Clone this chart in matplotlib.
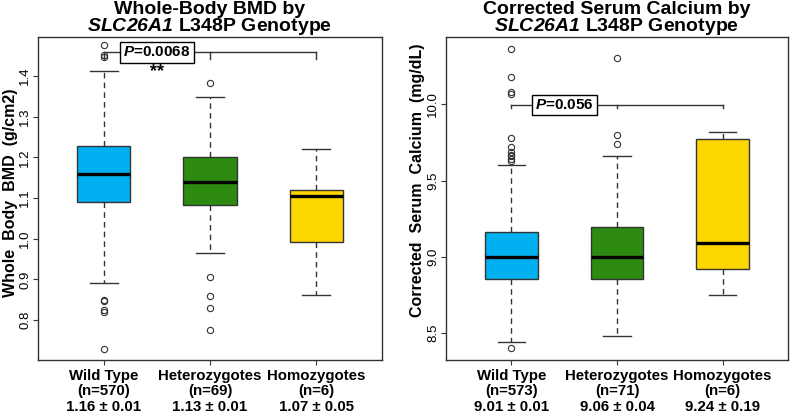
import matplotlib
matplotlib.use("Agg")
import matplotlib.pyplot as plt
import matplotlib.transforms as mtransforms

plt.rcParams['font.family'] = ['Liberation Sans', 'DejaVu Sans']
plt.rcParams['mathtext.fontset'] = 'custom'
plt.rcParams['mathtext.rm'] = 'Liberation Sans:bold'
plt.rcParams['mathtext.bf'] = 'Liberation Sans:bold'
plt.rcParams['mathtext.it'] = 'Liberation Sans:italic:bold'
plt.rcParams['mathtext.bfit'] = 'Liberation Sans:italic:bold'

# ---------------- data ----------------
groups = ["Wild Type", "Heterozygotes", "Homozygotes"]
colors = ["#00B0F0", "#2E8B12", "#FFD700"]

bmd_n = [570, 69, 6]
bmd_mean = ["1.16 \u00b1 0.01", "1.13 \u00b1 0.01", "1.07 \u00b1 0.05"]
bmd_whislo = [0.891, 0.965, 0.862]
bmd_q1 = [1.091, 1.084, 0.991]
bmd_med = [1.160, 1.139, 1.105]
bmd_q3 = [1.228, 1.200, 1.119]
bmd_whishi = [1.413, 1.349, 1.221]
bmd_fliers = [[1.476, 1.446, 1.451, 0.849, 0.846, 0.824, 0.820, 0.729],
              [1.382, 0.907, 0.859, 0.829, 0.775],
              []]
bmd_p = "0.0068"

ca_n = [573, 71, 6]
ca_mean = ["9.01 \u00b1 0.01", "9.06 \u00b1 0.04", "9.24 \u00b1 0.19"]
ca_whislo = [8.44, 8.485, 8.75]
ca_q1 = [8.858, 8.854, 8.92]
ca_med = [9.0, 9.0, 9.09]
ca_q3 = [9.16, 9.197, 9.77]
ca_whishi = [9.60, 9.66, 9.82]
ca_fliers = [[10.36, 10.18, 10.08, 10.066, 9.78, 9.72, 9.69, 9.67, 9.66, 9.64, 9.63, 8.403],
             [10.30, 9.80, 9.74],
             []]
ca_p = "0.056"

bmd_ticks = [0.8, 0.9, 1.0, 1.1, 1.2, 1.3, 1.4]
ca_ticks = [8.5, 9.0, 9.5, 10.0]

# ---------------- figure ----------------
fig = plt.figure(figsize=(7.92, 4.18), dpi=100)
ax1 = fig.add_axes([38/792, 1-360/418, 344/792, 323/418])
ax2 = fig.add_axes([446/792, 1-360/418, 342/792, 323/418])

edge = "#333333"


def draw(ax, whislo, q1, med, q3, whishi, fliers, ns, means, ticks, ylim, shift):
    stats = []
    for i in range(3):
        stats.append(dict(whislo=whislo[i], q1=q1[i], med=med[i], q3=q3[i],
                          whishi=whishi[i], fliers=fliers[i]))
    bp = ax.bxp(stats, positions=[1, 2, 3], widths=0.5, patch_artist=True,
                showfliers=True,
                boxprops=dict(edgecolor=edge, linewidth=1.0),
                medianprops=dict(color="black", linewidth=2.4),
                whiskerprops=dict(color=edge, linestyle=(0, (4, 3)), linewidth=1.0),
                capprops=dict(color=edge, linewidth=1.0),
                capwidths=0.26,
                flierprops=dict(marker='o', markerfacecolor='none',
                                markeredgecolor=edge, markersize=4.5,
                                markeredgewidth=0.8))
    for patch, c in zip(bp['boxes'], colors):
        patch.set_facecolor(c)
    ax.set_xlim(0.38, 3.62)
    ax.set_ylim(*ylim)
    labels = [f"{g}\n(n={n})\n{m}" for g, n, m in zip(groups, ns, means)]
    ax.set_xticks([1, 2, 3])
    ax.set_xticklabels(labels, fontsize=10.8, fontweight='bold', linespacing=1.12)
    lab = ax.get_xticklabels()[2]
    lab.set_transform(lab.get_transform() +
                      mtransforms.ScaledTranslation(shift / 100, 0, fig.dpi_scale_trans))
    ax.set_yticks(ticks)
    ax.set_yticklabels([f"{t:.1f}" for t in ticks], rotation=90, va='center', fontsize=9.5)
    for s in ax.spines.values():
        s.set_color(edge)
        s.set_linewidth(1.0)
    ax.tick_params(axis='both', direction='out', length=3.5, width=0.8, color=edge)
    ax.tick_params(axis='x', pad=3)
    ax.tick_params(axis='y', pad=1.5)


draw(ax1, bmd_whislo, bmd_q1, bmd_med, bmd_q3, bmd_whishi, bmd_fliers, bmd_n, bmd_mean,
     bmd_ticks, (0.702, 1.496), 7)
draw(ax2, ca_whislo, ca_q1, ca_med, ca_q3, ca_whishi, ca_fliers, ca_n, ca_mean,
     ca_ticks, (8.325, 10.44), 4)

ax1.set_ylabel("Whole  Body  BMD  (g/cm2)", fontsize=11.5, fontweight='bold', va='center')
ax1.yaxis.set_label_coords(-0.080, 0.517)
ax2.set_ylabel("Corrected  Serum  Calcium  (mg/dL)", fontsize=11.5, fontweight='bold', va='center')
ax2.yaxis.set_label_coords(-0.082, 0.557)

ax1.set_title("Whole-Body BMD by\n$\\mathbfit{SLC26A1}$ L348P Genotype",
              fontsize=14, fontweight='bold', linespacing=0.9, pad=0.5)
ax2.set_title("Corrected Serum Calcium by\n$\\mathbfit{SLC26A1}$ L348P Genotype",
              fontsize=14, fontweight='bold', linespacing=0.9, pad=0.5)

# significance brackets
by, bt = 1.458, 1.441
ax1.plot([1, 3], [by, by], color=edge, lw=1.0, zorder=3)
for x in [1, 2, 3]:
    ax1.plot([x, x], [by, bt], color=edge, lw=1.0, zorder=3)
ax1.text(1.5, by, "$\\mathbfit{P}$=" + bmd_p, ha='center', va='center', fontsize=11,
         fontweight='bold', zorder=4,
         bbox=dict(boxstyle='square,pad=0.2', facecolor='white', edgecolor='black', lw=1.0))
ax1.text(1.5, 1.412, "**", ha='center', va='center', fontsize=13, fontweight='bold')

cy, ct = 9.995, 9.975
ax2.plot([1, 3], [cy, cy], color=edge, lw=1.0, zorder=3)
for x in [1, 2, 3]:
    ax2.plot([x, x], [cy, ct], color=edge, lw=1.0, zorder=3)
ax2.text(1.5, cy, "$\\mathbfit{P}$=" + ca_p, ha='center', va='center', fontsize=11,
         fontweight='bold', zorder=4,
         bbox=dict(boxstyle='square,pad=0.2', facecolor='white', edgecolor='black', lw=1.0))

fig.savefig("out.png", dpi=100)
